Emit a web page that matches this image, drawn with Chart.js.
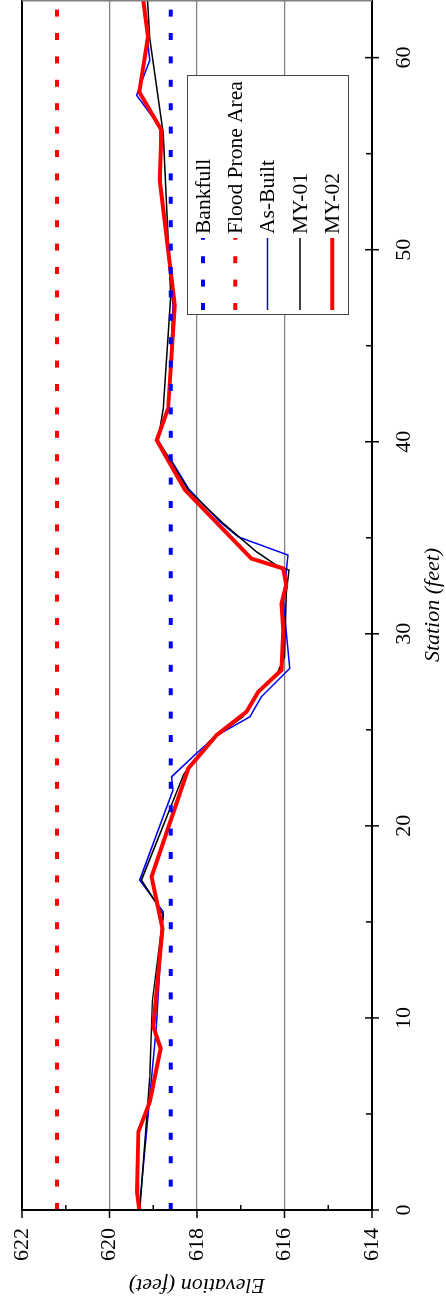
<!DOCTYPE html>
<html>
<head>
<meta charset="utf-8">
<script src="https://cdn.jsdelivr.net/npm/chart.js@4.4.1/dist/chart.umd.min.js"></script>
<style>
  html, body { margin: 0; padding: 0; background: #fff; overflow: hidden; }
  #wrap { position: relative; width: 446px; height: 1304px; overflow: hidden; }
  /* chart is drawn landscape, then turned a quarter turn to fit the portrait page */
  #chart { position: absolute; left: 0; top: 0; transform-origin: 0 0; transform: translate(0, 1304px) rotate(-90deg); }
</style>
</head>
<body>
<div id="wrap"><canvas id="chart" width="1304" height="446"></canvas></div>
<script>
// Axis ticks
const stationTicks = [0, 10, 20, 30, 40, 50, 60];
const stationMinor = [5, 15, 25, 35, 45, 55];
const elevTicks = [614, 616, 618, 620, 622];
const elevMinor = [615, 617, 619, 621];
const stationRange = [0, 63];

// Reference levels
const bankfullElev = 618.6;
const floodProneElev = 621.2;

// Cross-section surveys
const asBuiltStation = [0, 9.5, 15.53, 17.18, 21.86, 22.56, 23.86, 24.7, 25.68, 26.72, 28.2, 31.75, 34.1, 35.05, 35.84, 37.57, 38.9, 40.08, 41.73, 47.1, 53.6, 56.39, 58.04, 59.86, 63];
const asBuiltElev = [619.32, 618.93, 618.77, 619.31, 618.55, 618.58, 617.97, 617.55, 616.79, 616.53, 615.88, 616.03, 615.92, 617.06, 617.48, 618.2, 618.55, 618.92, 618.66, 618.55, 618.83, 618.85, 619.38, 619.08, 619.23];

const my01Station = [0, 6.9, 10.9, 15.36, 16.22, 17.18, 22.7, 24.4, 25.68, 26.9, 28.02, 28.8, 32.1, 33.32, 33.58, 34.27, 35.75, 37.48, 40.08, 41.73, 47.6, 56.04, 61, 63];
const my01Elev = [619.31, 619.08, 619.02, 618.77, 619.0, 619.27, 618.3, 617.72, 616.95, 616.64, 616.15, 616.0, 615.96, 615.9, 616.19, 616.64, 617.4, 618.2, 618.89, 618.77, 618.6, 618.77, 619.08, 619.13];

const my02Station = [0, 0.95, 4.08, 5.64, 8.42, 9.54, 14.66, 17.35, 22.99, 24.73, 25.94, 26.98, 28.11, 30.19, 31.58, 32.54, 33.4, 33.92, 37.5, 40.08, 41.73, 47.11, 53.62, 56.22, 58.21, 61.08, 63];
const my02Elev = [619.32, 619.37, 619.34, 619.08, 618.83, 619.0, 618.79, 619.04, 618.2, 617.55, 616.87, 616.6, 616.07, 616.03, 616.07, 615.96, 616.03, 616.76, 618.28, 618.92, 618.66, 618.51, 618.85, 618.81, 619.32, 619.12, 619.23];

const pts = (xs, ys) => xs.map((x, i) => ({ x: x, y: ys[i] }));
const flat = (v) => stationRange.map(x => ({ x: x, y: v }));

const serif = "'Liberation Serif', 'Times New Roman', serif";
Chart.defaults.font.family = serif;
Chart.defaults.color = '#000';

// ticks, frame and the boxed legend
const frame = {
  id: 'frame',
  afterDatasetsDraw(chart) {
    const { ctx, chartArea: a, scales: { x, y } } = chart;
    ctx.save();
    ctx.strokeStyle = '#000';
    ctx.lineWidth = 2;
    ctx.beginPath();
    ctx.moveTo(a.right, a.top);
    ctx.lineTo(a.left, a.top);
    ctx.lineTo(a.left, a.bottom);
    ctx.lineTo(a.right, a.bottom);
    ctx.stroke();
    ctx.strokeStyle = '#808080';
    ctx.lineWidth = 1.5;
    ctx.beginPath();
    ctx.moveTo(a.right - 0.75, a.top);
    ctx.lineTo(a.right - 0.75, a.bottom);
    ctx.stroke();

    ctx.strokeStyle = '#000';
    ctx.lineWidth = 1.5;
    ctx.beginPath();
    stationTicks.forEach(v => {
      const px = x.getPixelForValue(v);
      ctx.moveTo(px, a.bottom - 7);
      ctx.lineTo(px, a.bottom + 7);
    });
    stationMinor.forEach(v => {
      const px = x.getPixelForValue(v);
      ctx.moveTo(px, a.bottom - 6);
      ctx.lineTo(px, a.bottom);
    });
    elevTicks.forEach(v => {
      const py = y.getPixelForValue(v);
      ctx.moveTo(a.left - 8, py);
      ctx.lineTo(a.left, py);
    });
    elevMinor.forEach(v => {
      const py = y.getPixelForValue(v);
      ctx.moveTo(a.left, py);
      ctx.lineTo(a.left + 5, py);
    });
    ctx.stroke();
    ctx.restore();
  },
  afterDraw(chart) {
    const ctx = chart.ctx;
    const box = { left: 989, top: 187, width: 239, height: 161 };
    ctx.save();
    ctx.fillStyle = '#fff';
    ctx.fillRect(box.left, box.top, box.width, box.height);
    ctx.strokeStyle = '#444';
    ctx.lineWidth = 1;
    ctx.strokeRect(box.left + 0.5, box.top + 0.5, box.width, box.height);
    ctx.font = '21.5px ' + serif;
    ctx.textBaseline = 'middle';
    ctx.textAlign = 'left';
    chart.data.datasets.forEach((ds, i) => {
      const ry = 203 + i * 32.3;
      ctx.strokeStyle = ds.borderColor;
      ctx.lineWidth = ds.borderWidth;
      ctx.lineCap = 'butt';
      ctx.setLineDash(ds.borderDash || []);
      ctx.beginPath();
      ctx.moveTo(box.left + 5, ry);
      ctx.lineTo(box.left + 77, ry);
      ctx.stroke();
      ctx.setLineDash([]);
      ctx.fillStyle = '#000';
      ctx.fillText(ds.label, box.left + 81, ry + 1);
    });
    ctx.restore();
  }
};

new Chart(document.getElementById('chart'), {
  type: 'line',
  data: {
    datasets: [
      { label: 'Bankfull', data: flat(bankfullElev), borderColor: '#0000ff', borderWidth: 4, borderDash: [7, 16.4], borderCapStyle: 'butt', order: 0 },
      { label: 'Flood Prone Area', data: flat(floodProneElev), borderColor: '#ff0000', borderWidth: 4, borderDash: [7, 16.4], borderCapStyle: 'butt', order: 0 },
      { label: 'As-Built', data: pts(asBuiltStation, asBuiltElev), borderColor: '#0000ff', borderWidth: 1.5, order: 3 },
      { label: 'MY-01', data: pts(my01Station, my01Elev), borderColor: '#000000', borderWidth: 1.5, order: 2 },
      { label: 'MY-02', data: pts(my02Station, my02Elev), borderColor: '#ff0000', borderWidth: 4, order: 1 }
    ]
  },
  options: {
    responsive: false,
    animation: false,
    devicePixelRatio: 1,
    events: [],
    layout: { padding: { top: 22, right: 0, bottom: 0, left: 0 } },
    elements: { point: { radius: 0 }, line: { tension: 0, fill: false } },
    plugins: { legend: { display: false }, tooltip: { enabled: false } },
    scales: {
      x: {
        type: 'linear',
        min: stationRange[0],
        max: stationRange[1],
        afterBuildTicks: s => { s.ticks = stationTicks.map(v => ({ value: v })); },
        afterFit: s => { s.height = 74; },
        grid: { display: false, drawTicks: false },
        border: { display: false },
        ticks: { autoSkip: false, maxRotation: 0, padding: 19, font: { size: 22 } },
        title: { display: true, text: 'Station (feet)', padding: 0, font: { size: 22, style: 'italic' } }
      },
      y: {
        type: 'linear',
        min: 614,
        max: 622,
        afterBuildTicks: s => { s.ticks = elevTicks.map(v => ({ value: v })); },
        afterFit: s => { s.width = 94; s.paddingTop = 0; s.paddingBottom = 0; },
        grid: {
          drawTicks: false,
          lineWidth: 1.2,
          color: c => (c.tick && (c.tick.value === 614 || c.tick.value === 622)) ? 'rgba(0,0,0,0)' : '#808080'
        },
        border: { display: false },
        ticks: { padding: 18, font: { size: 22 } },
        title: { display: true, text: 'Elevation (feet)', padding: { top: 6 }, font: { size: 22, style: 'italic' } }
      }
    }
  },
  plugins: [frame]
});
</script>
</body>
</html>
